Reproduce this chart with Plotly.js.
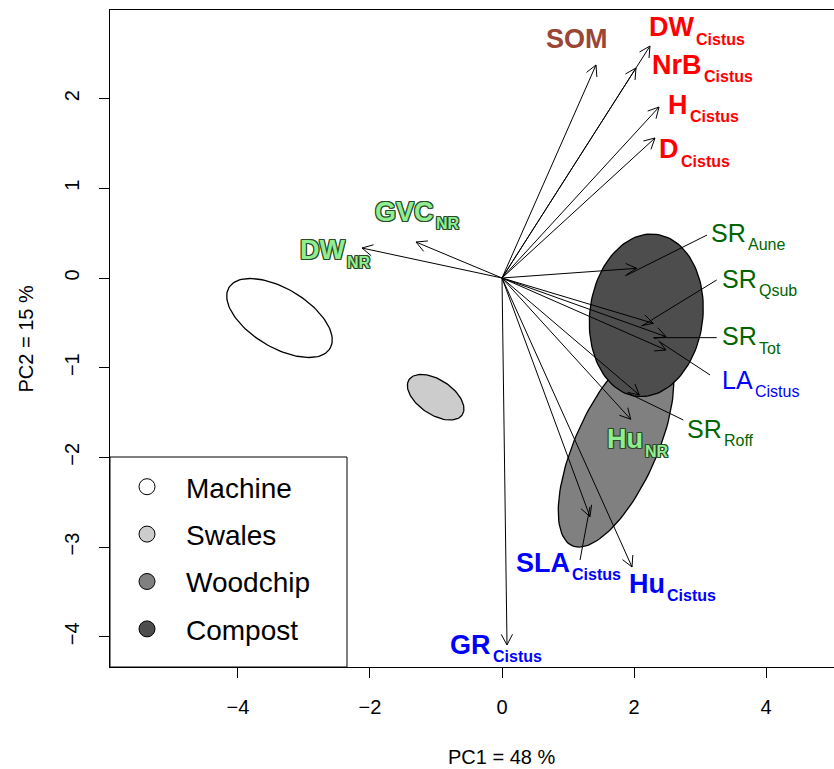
<!DOCTYPE html>
<html><head><meta charset="utf-8">
<script src="https://cdn.plot.ly/plotly-3.0.1.min.js"></script>
<style>html,body{margin:0;padding:0;background:#fff}</style>
</head><body><div id="chart" style="width:834px;height:769px"></div>
<script>
// ---------------- data ----------------
// treatment groups (confidence ellipses): centre and two conjugate semi-axis vectors (PC units)
const groups = ["Machine", "Swales", "Woodchip", "Compost"];
const ellCX = [-3.371, -1.005, 1.727, 2.186];
const ellCY = [-0.446, -1.329, -1.884, -0.416];
const ellUX = [0.766, 0.403, 0.665, 0.151];
const ellUY = [-0.339, -0.196, 1.100, 0.903];
const ellVX = [0.229, 0.145, -0.568, -0.850];
const ellVY = [0.281, 0.162, 0.186, 0.077];

// variable loadings (arrow tips)
const varNames = ["SOM", "DW", "NrB", "H", "D", "GVC", "DW", "SR", "SR", "SR", "LA", "SR", "Hu", "SLA", "Hu", "GR"];
const varSubs  = ["", "Cistus", "Cistus", "Cistus", "Cistus", "NR", "NR", "Aune", "Qsub", "Tot", "Cistus", "Roff", "NR", "Cistus", "Cistus", "Cistus"];
const varType  = ["soil", "growth", "growth", "growth", "growth", "nurse", "nurse", "richness", "richness", "richness", "leaf", "richness", "nurse", "trait", "trait", "trait"];
const loadX = [1.424, 2.242, 2.030, 2.379, 2.318, -1.303, -2.121, 2.040, 2.293, 2.485, 2.485, 2.080, 1.950, 1.333, 1.970, 0.076];
const loadY = [2.375, 2.586, 2.341, 1.906, 1.561, 0.401, 0.334, 0.108, -0.505, -0.654, -0.803, -1.304, -1.575, -2.661, -3.222, -4.091];

// label anchor (junction between name and subscript)
const labX = [1.621, 2.924, 3.045, 2.833, 2.697, -1.015, -2.364, 3.705, 3.879, 3.879, 3.818, 3.341, 2.144, 1.045, 2.485, -0.144];
const labY = [2.664, 2.793, 2.380, 1.934, 1.438, 0.736, 0.312, 0.507, -0.011, -0.647, -1.137, -1.683, -1.795, -3.177, -3.411, -4.091];

// leader lines from labels to arrow tips
const leadX0 = [3.106, 3.253, 3.253, 3.152, 2.747, 1.182];
const leadY0 = [0.479, -0.022, -0.665, -1.081, -1.583, -3.144];
const leadX1 = [1.864, 2.117, 2.292, 2.394, 1.914, 1.333];
const leadY1 = [0.022, -0.535, -0.665, -0.714, -1.285, -2.550];

const xTicks = [-4, -2, 0, 2, 4];
const yTicks = [-4, -3, -2, -1, 0, 1, 2];
const xTitle = "PC1 = 48 %";
const yTitle = "PC2 = 15 %";

// ---------------- styles ----------------
const FONT = "Liberation Sans, Arial, Helvetica, sans-serif";
const groupFill = {Machine: "#ffffff", Swales: "#cccccc", Woodchip: "#808080", Compost: "#4d4d4d"};
const oc = "#2b4a2b";
const outline = `1px 0 0 ${oc}, -1px 0 0 ${oc}, 0 1px 0 ${oc}, 0 -1px 0 ${oc}, 1px 1px 0 ${oc}, -1px -1px 0 ${oc}, 1px -1px 0 ${oc}, -1px 1px 0 ${oc}`;
const typeStyle = {
  soil:     {color: "#9b4536", weight: "bold",   size: 27, sub: 16},
  growth:   {color: "#ff0000", weight: "bold",   size: 27, sub: 16},
  nurse:    {color: "#90ee90", weight: "bold",   size: 27, sub: 16, shadow: outline},
  richness: {color: "#006400", weight: "normal", size: 25, sub: 16},
  leaf:     {color: "#0000ff", weight: "normal", size: 25, sub: 16},
  trait:    {color: "#0000ff", weight: "bold",   size: 27, sub: 16}
};

const W = 834, H = 769;
const M = {l: 110, r: 0, t: 10, b: 102};
const PW = W - M.l - M.r, PH = H - M.t - M.b;
const xRange = [-5.939, 5.030];
const yRange = [-4.337, 2.988];
const pxX = PW / (xRange[1] - xRange[0]);
const pxY = PH / (yRange[1] - yRange[0]);

const traces = [];

// ellipses
groups.forEach((g, i) => {
  const xs = [], ys = [];
  for (let k = 0; k <= 120; k++) {
    const t = 2 * Math.PI * k / 120;
    xs.push(ellCX[i] + ellUX[i] * Math.cos(t) + ellVX[i] * Math.sin(t));
    ys.push(ellCY[i] + ellUY[i] * Math.cos(t) + ellVY[i] * Math.sin(t));
  }
  traces.push({x: xs, y: ys, type: "scatter", mode: "lines", fill: "toself",
    fillcolor: groupFill[g], line: {color: "#000", width: 1.3}, showlegend: false, hoverinfo: "skip"});
});

// arrows (open V heads)
const ax = [], ay = [];
const headLen = 12, headAng = 28 * Math.PI / 180;
for (let i = 0; i < loadX.length; i++) {
  const tx = loadX[i], ty = loadY[i];
  const dx = tx * pxX, dy = ty * pxY, len = Math.hypot(dx, dy);
  const ux = dx / len, uy = dy / len;
  const b = s => {
    const c = Math.cos(s * headAng), sn = Math.sin(s * headAng);
    const rx = ux * c - uy * sn, ry = ux * sn + uy * c;
    return [tx - headLen * rx / pxX, ty - headLen * ry / pxY];
  };
  const b1 = b(1), b2 = b(-1);
  ax.push(0, tx, null, b1[0], tx, b2[0], null);
  ay.push(0, ty, null, b1[1], ty, b2[1], null);
}
traces.push({x: ax, y: ay, type: "scatter", mode: "lines", line: {color: "#000", width: 1}, showlegend: false, hoverinfo: "skip"});

// leader lines
const lx = [], ly = [];
for (let i = 0; i < leadX0.length; i++) { lx.push(leadX0[i], leadX1[i], null); ly.push(leadY0[i], leadY1[i], null); }
traces.push({x: lx, y: ly, type: "scatter", mode: "lines", line: {color: "#000", width: 1}, showlegend: false, hoverinfo: "skip"});

// legend entries
groups.forEach((g, i) => {
  traces.push({x: [null], y: [null], type: "scatter", mode: "markers", name: g, legendgroup: "g" + i,
    marker: {symbol: "circle", size: 17, color: groupFill[g], line: {color: "#000", width: 1}}});
});

// labels
const annotations = [];
for (let i = 0; i < varNames.length; i++) {
  const st = typeStyle[varType[i]];
  const f = {family: FONT, size: st.size, color: st.color, weight: st.weight};
  if (st.shadow) f.shadow = st.shadow;
  annotations.push({x: labX[i], y: labY[i], xref: "x", yref: "y", text: varNames[i], showarrow: false,
    xanchor: "right", yanchor: "middle", font: f, borderpad: 0});
  if (varSubs[i]) {
    const fs = Object.assign({}, f, {size: st.sub});
    annotations.push({x: labX[i], y: labY[i], xref: "x", yref: "y", text: varSubs[i], showarrow: false,
      xanchor: "left", yanchor: "middle", yshift: -12, font: fs, borderpad: 0});
  }
}
// axis titles
annotations.push({xref: "paper", yref: "paper", x: (502 - M.l) / PW, y: 0, yshift: -90,
  text: xTitle, showarrow: false, xanchor: "center", yanchor: "middle", font: {family: FONT, size: 20, color: "#000"}});
annotations.push({xref: "paper", yref: "paper", x: 0, xshift: -85, y: 0.5, textangle: -90,
  text: yTitle, showarrow: false, xanchor: "center", yanchor: "middle", font: {family: FONT, size: 20, color: "#000"}});

const layout = {
  width: W, height: H, margin: M, paper_bgcolor: "#fff", plot_bgcolor: "#fff",
  font: {family: FONT, color: "#000"},
  showlegend: true,
  legend: {x: (108 - M.l) / PW, y: (667 - 462) / PH, xanchor: "left", yanchor: "top",
    bgcolor: "rgba(0,0,0,0)", borderwidth: 0,
    font: {family: FONT, size: 28, color: "#000"}, tracegroupgap: 8, itemwidth: 68, traceorder: "grouped"},
  shapes: [{type: "rect", xref: "paper", yref: "paper", x0: 0, x1: (347 - M.l) / PW, y0: 0, y1: (667 - 457) / PH,
    line: {color: "#000", width: 1}, fillcolor: "#fff", layer: "below"}],
  xaxis: {range: xRange, tickvals: xTicks, ticks: "outside", ticklen: 10, tickwidth: 1, tickcolor: "#000",
    showline: true, mirror: true, linecolor: "#000", linewidth: 1, showgrid: false, zeroline: false,
    tickfont: {family: FONT, size: 20, color: "#000"}, ticklabelstandoff: 12, fixedrange: true},
  yaxis: {range: yRange, tickvals: yTicks, ticks: "outside", ticklen: 10, tickwidth: 1, tickcolor: "#000",
    showline: true, mirror: false, linecolor: "#000", linewidth: 1, showgrid: false, zeroline: false,
    tickangle: -90, tickfont: {family: FONT, size: 20, color: "#000"}, ticklabelstandoff: 12, fixedrange: true},
  annotations: annotations
};

Plotly.newPlot("chart", traces, layout, {staticPlot: true, displayModeBar: false});
</script>
</body></html>
